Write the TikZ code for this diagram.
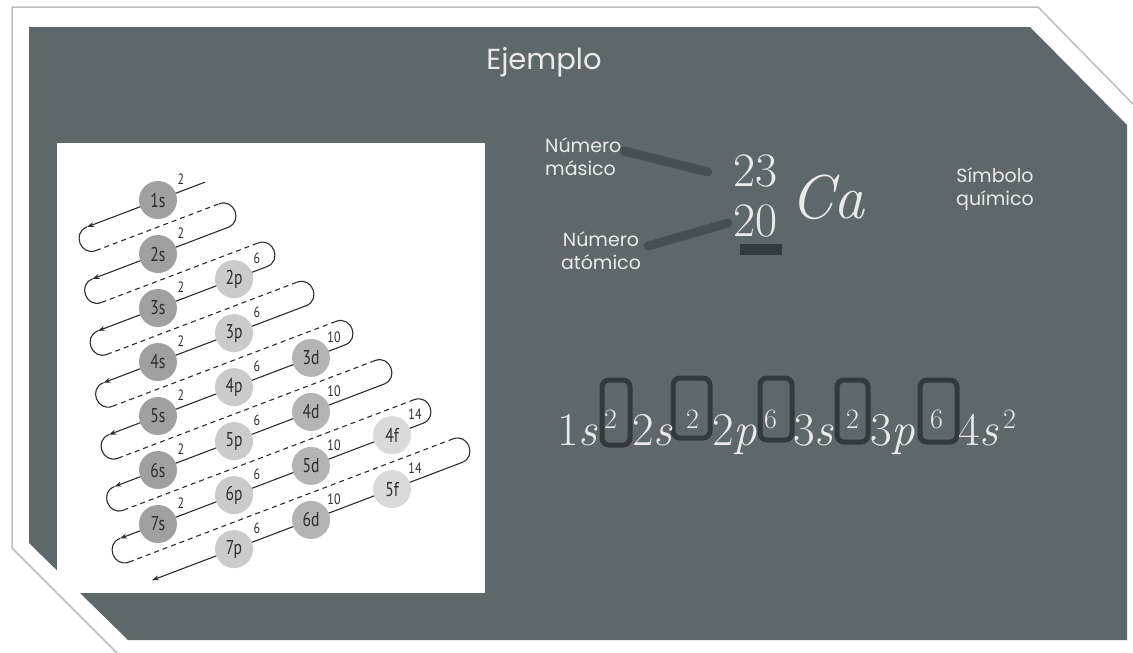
\documentclass[tikz,border=0pt]{standalone}
\usepackage{fontspec}
\usepackage{graphicx}
\usetikzlibrary{calc,arrows.meta}
\newfontfamily\popfont{Poppins}
\newfontfamily\orbfont{PT Sans}
\definecolor{slate}{RGB}{94,104,107}
\definecolor{slatedark}{RGB}{44,50,53}
\definecolor{txt}{RGB}{234,234,234}
\definecolor{ink}{RGB}{45,45,45}
\definecolor{cols}{RGB}{160,160,160}
\definecolor{colp}{RGB}{203,203,203}
\definecolor{cold}{RGB}{180,180,180}
\definecolor{colf}{RGB}{218,218,218}
\definecolor{rim}{RGB}{190,190,190}
\begin{document}
\begin{tikzpicture}[x=1pt,y=-1pt,
  orb/.style={circle,minimum size=38pt,inner sep=0pt,font=\orbfont\fontsize{20}{20}\selectfont,text=ink},
  sup/.style={font=\orbfont\fontsize{15}{15}\selectfont,text=ink,inner sep=0pt},
  wire/.style={draw=ink,line width=1.1pt},
  dashwire/.style={wire,dash pattern=on 5pt off 4pt},
  lbl/.style={font=\popfont\fontsize{19}{23}\selectfont,text=txt,inner sep=0pt},
  term/.style={anchor=base west,inner sep=0pt,text=txt,font=\fontsize{47}{47}\selectfont},
  expo/.style={anchor=base west,inner sep=0pt,text=txt,font=\fontsize{28}{28}\selectfont},
  bracket/.style={draw=slatedark,line width=5pt,rounded corners=7pt,opacity=0.85},
  band/.style={draw=slatedark,line width=9pt,opacity=0.45,line cap=round}]
\useasboundingbox (0,0) rectangle (1133,653);
\fill[white] (0,0) rectangle (1133,653);
% outer rim and slide
\draw[rim,line width=1.5pt] (1133,104) -- (1038,7) -- (12,7) -- (12,548) -- (117,653);
\fill[slate] (29,27) -- (1030,27) -- (1127,125) -- (1127,640) -- (128,640) -- (29,543) -- cycle;
% white panel
\fill[white] (57,143) rectangle (485,593);
% serpentine path
\foreach \k in {1,...,8}{
  \pgfmathsetmacro\Y{200+54*(\k-1)}
  \pgfmathsetmacro\xR{ifthenelse(\k==1,205,228+39*(\k-2))}
  \pgfmathsetmacro\xL{ifthenelse(\k==8,152,87+5.5*(\k-1))}
  \coordinate (R\k) at (\xR,{\Y-0.38*(\xR-158)});
  \coordinate (L\k) at (\xL,{\Y-0.38*(\xL-158)});
}
\foreach \k in {1,...,7}{
  \pgfmathtruncatemacro\kk{\k+1}
  \coordinate (DL\k) at ($(L\k)+(8.96,23.59)$);
  \coordinate (DR\k) at ($(R\kk)-(8.96,23.59)$);
  \draw[wire] (L\k) .. controls +(-15.3,5.8) and +(-15.3,5.8) .. (DL\k);
  \draw[dashwire] (DL\k) -- (DR\k);
  \draw[wire] (DR\k) .. controls +(15.3,-5.8) and +(15.3,-5.8) .. (R\kk);
}
\foreach \k in {1,...,8}{
  \draw[wire,-{Stealth[length=7pt,width=5pt]}] (R\k) -- (L\k);
}
% orbitals
\foreach \n/\x/\y/\ty/\el in {1s/158/200/s/2, 2s/158/254/s/2, 3s/158/308/s/2, 2p/234/279.1/p/6,
  4s/158/362/s/2, 3p/234/333.1/p/6, 5s/158/416/s/2, 4p/234/387.1/p/6, 3d/311/357.9/d/10,
  6s/158/470/s/2, 5p/234/441.1/p/6, 4d/311/411.9/d/10, 7s/158/524/s/2, 6p/234/495.1/p/6,
  5d/311/465.9/d/10, 4f/392/435.1/f/14, 7p/234/549.1/p/6, 6d/311/519.9/d/10, 5f/392/489.1/f/14}{
  \node[orb,fill=col\ty] (o\n) at (\x,\y) {\scalebox{0.78}[1]{\n}};
  \node[sup] (e\n) at ($(o\n)+(23,-21)$) {\scalebox{0.8}[1]{\el}};
}
% title and labels
\node[font=\popfont\fontsize{29}{29}\selectfont,text=txt,inner sep=0pt] (title) at (544,62) {Ejemplo};
\node[lbl,align=left,anchor=west] (masico) at (545,157) {Número\\másico};
\node[lbl,align=center] (atomico) at (601,251) {Número\\atómico};
\node[lbl,align=center] (simbolo) at (995,189) {Símbolo\\químico};
% notation
\coordinate (b1s) at (624,151);
\coordinate (b1e) at (708,172);
\coordinate (b2s) at (648,246);
\coordinate (b2e) at (728,223);
\draw[band] (b1s) -- (b1e);
\draw[band] (b2s) -- (b2e);
\fill[slatedark,opacity=0.85] (740,244) rectangle (782,255);
\node[anchor=base west,inner sep=0pt,text=txt,align=left,font=\fontsize{48}{50}\selectfont] (iso) at (733,236) {23\\20};
\node[anchor=base west,inner sep=0pt,text=txt,font=\fontsize{62}{62}\selectfont\itshape] (ca) at (790,218) {Ca};
% configuration with hand-drawn marks
\draw[bracket] (602,380) rectangle (630,445);
\draw[bracket] (673,378) rectangle (710,438);
\draw[bracket] (760,378) rectangle (792,440);
\draw[bracket] (837,380) rectangle (868,442);
\draw[bracket] (920,380) rectangle (957,442);
\node[term] (t1) at (557,445) {1\textit{s}};
\node[expo] (x1) at (604,428) {2};
\node[term] (t2) at (632,445) {2\textit{s}};
\node[expo] (x2) at (686,428) {2};
\node[term] (t3) at (712,445) {2\textit{p}};
\node[expo] (x3) at (764,428) {6};
\node[term] (t4) at (793,445) {3\textit{s}};
\node[expo] (x4) at (846,428) {2};
\node[term] (t5) at (870,445) {3\textit{p}};
\node[expo] (x5) at (930,428) {6};
\node[term] (t6) at (958,445) {4\textit{s}};
\node[expo] (x6) at (1003,428) {2};
\end{tikzpicture}
\end{document}
